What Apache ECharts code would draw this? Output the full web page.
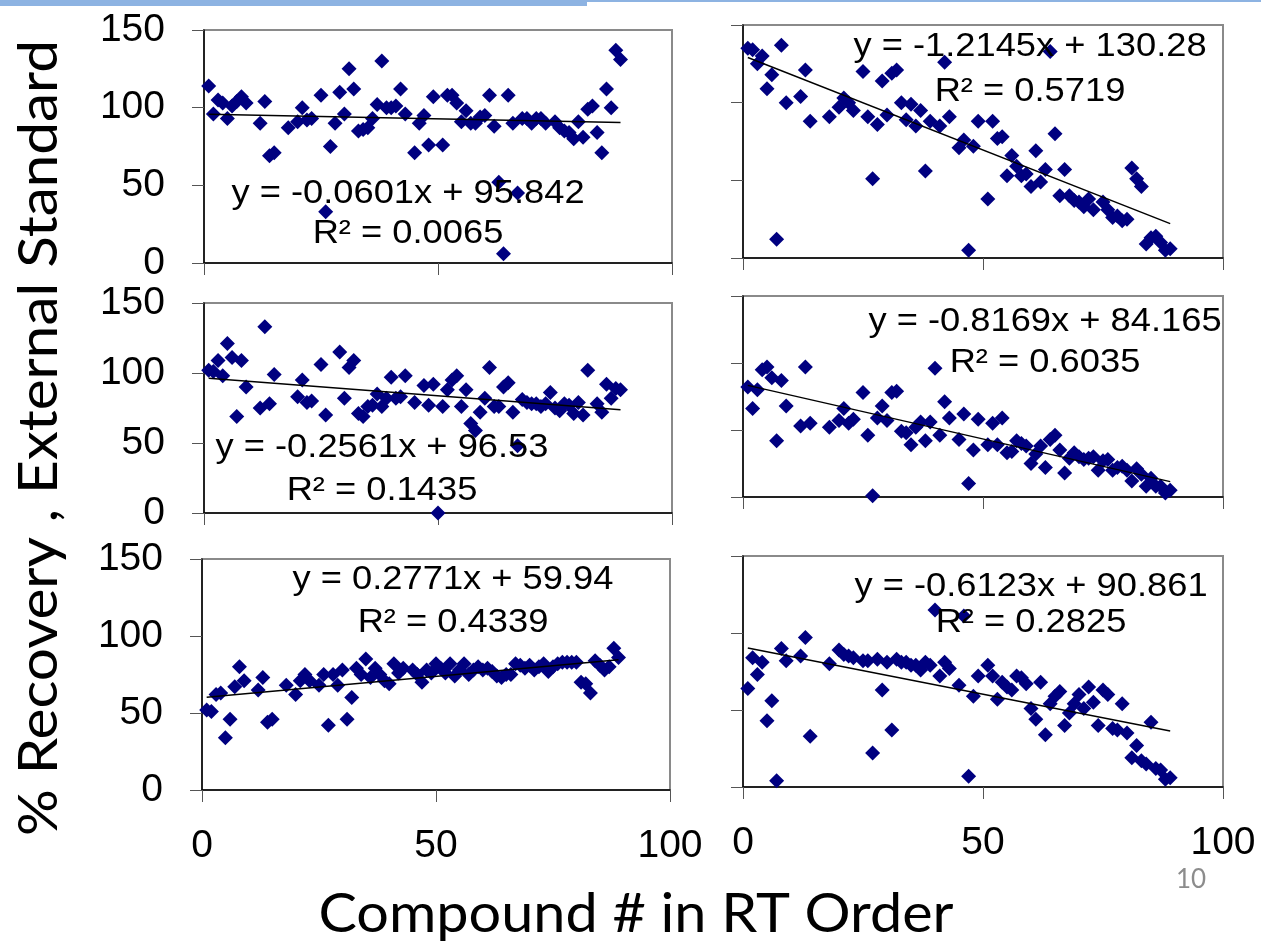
<!DOCTYPE html>
<html>
<head>
<meta charset="utf-8">
<script src="https://cdn.jsdelivr.net/npm/echarts@6/dist/echarts.min.js"></script>
<style>
  html, body { margin: 0; padding: 0; background: #fff; }
  #chart { width: 1261px; height: 941px; }
</style>
</head>
<body>
<div id="chart"></div>
<script>
// Recovery (%) against compound number in retention-time order, six sample sets.
const recTopLeft = [[1,114],[2,96],[3,105],[4,103],[5,93],[6,101],[7,104],[8,107],[9,103],[12,90],[13,104],[14,69],[15,71],[18,87],[20,91],[21,100],[22,92],[23,93],[25,108],[26,33],[27,75],[28,90],[29,110],[30,96],[31,125],[32,112],[33,85],[34,86],[35,87],[36,93],[37,102],[38,130],[39,100],[40,100],[41,101],[42,112],[43,96],[45,71],[46,90],[47,95],[48,76],[49,107],[51,76],[52,108],[53,108],[54,103],[55,91],[56,98],[57,90],[58,90],[59,94],[60,95],[61,108],[62,88],[63,52],[64,6],[65,108],[66,90],[67,45],[68,93],[69,93],[70,90],[71,93],[72,93],[73,90],[75,91],[76,87],[77,85],[78,84],[79,80],[80,91],[81,81],[82,99],[83,101],[84,84],[85,71],[86,112],[87,100],[88,137],[89,131]];

const recTopRight = [[1,135],[2,134],[3,125],[4,130],[5,109],[6,118],[7,12],[8,137],[9,100],[12,104],[13,121],[14,88],[18,91],[20,97],[21,103],[22,100],[23,95],[25,120],[26,91],[27,51],[28,86],[29,114],[30,92],[31,119],[32,121],[33,100],[34,89],[35,99],[36,85],[37,95],[38,56],[39,88],[41,85],[42,126],[43,91],[45,71],[46,76],[47,5],[48,72],[49,88],[51,38],[52,88],[53,77],[54,78],[55,53],[56,66],[57,59],[58,53],[59,54],[60,46],[61,69],[62,49],[63,57],[64,133],[65,80],[66,40],[67,57],[68,40],[69,37],[70,36],[71,33],[72,38],[73,31],[75,36],[76,31],[77,26],[78,27],[79,24],[80,25],[81,58],[82,51],[83,46],[84,9],[85,13],[86,14],[87,10],[88,5],[89,6]];

const recMidLeft = [[1,102],[2,101],[3,109],[4,98],[5,121],[6,111],[7,69],[8,109],[9,90],[12,75],[13,133],[14,78],[15,99],[20,83],[21,95],[22,79],[23,80],[25,106],[26,70],[29,115],[30,82],[31,104],[32,109],[33,71],[34,69],[35,76],[36,77],[37,85],[38,76],[39,82],[40,97],[41,82],[42,83],[43,98],[45,79],[47,91],[48,77],[49,92],[50,0],[51,76],[52,88],[53,95],[54,98],[55,76],[56,88],[57,64],[58,59],[59,72],[60,82],[61,104],[62,76],[63,76],[64,90],[65,93],[66,72],[67,48],[68,81],[69,79],[70,78],[71,78],[72,76],[73,78],[74,86],[75,75],[76,73],[77,78],[78,77],[79,71],[80,79],[81,70],[82,102],[84,78],[85,72],[86,92],[87,82],[88,89],[89,88]];

const recMidRight = [[1,82],[2,66],[3,80],[4,95],[5,97],[6,89],[7,42],[8,87],[9,68],[12,53],[13,97],[14,55],[18,52],[20,57],[21,66],[22,55],[23,58],[25,78],[26,46],[27,1],[28,59],[29,68],[30,57],[31,78],[32,79],[33,49],[34,48],[35,39],[36,52],[37,56],[38,42],[39,56],[40,96],[41,46],[42,71],[43,59],[45,43],[46,62],[47,10],[48,35],[49,58],[51,39],[52,55],[53,39],[54,59],[55,33],[56,34],[57,42],[58,40],[59,38],[60,25],[61,32],[62,38],[63,22],[64,43],[65,46],[66,35],[67,18],[68,29],[69,33],[70,30],[71,28],[72,29],[73,30],[74,20],[75,27],[76,28],[77,20],[78,22],[79,23],[80,20],[81,12],[82,21],[83,17],[84,8],[85,14],[86,8],[87,8],[88,3],[89,5]];

const recBotLeft = [[1,52],[2,51],[3,62],[4,63],[5,34],[6,46],[7,67],[8,80],[9,71],[12,65],[13,73],[14,44],[15,46],[18,68],[20,62],[21,71],[22,75],[23,71],[25,68],[26,75],[27,42],[28,75],[29,68],[30,78],[31,46],[32,60],[33,79],[34,75],[35,85],[36,73],[37,79],[38,75],[39,71],[40,69],[41,82],[42,76],[43,79],[45,78],[46,75],[47,70],[48,78],[49,76],[50,82],[51,79],[52,76],[53,82],[54,74],[55,78],[56,82],[57,75],[58,78],[59,80],[60,78],[61,79],[62,77],[63,74],[64,73],[65,75],[66,75],[67,82],[68,81],[69,79],[70,81],[71,78],[72,80],[73,82],[74,77],[75,80],[76,82],[77,83],[78,83],[79,83],[80,83],[81,70],[82,69],[83,63],[84,84],[85,81],[86,78],[87,80],[88,92],[89,86]];

const recBotRight = [[1,64],[2,84],[3,73],[4,81],[5,43],[6,56],[7,4],[8,90],[9,82],[12,85],[13,97],[14,33],[18,80],[20,89],[21,86],[22,85],[23,84],[25,82],[26,82],[27,22],[28,83],[29,63],[30,81],[31,37],[32,83],[33,81],[34,81],[35,79],[36,79],[37,76],[38,81],[39,79],[40,115],[41,72],[42,81],[43,77],[45,66],[46,111],[47,7],[48,59],[49,72],[51,79],[52,72],[53,57],[54,68],[55,65],[56,63],[57,72],[58,71],[59,67],[60,51],[61,44],[62,68],[63,34],[64,54],[65,59],[66,62],[67,40],[68,48],[69,54],[70,60],[71,51],[72,65],[73,55],[74,40],[75,63],[76,60],[77,38],[78,37],[79,54],[80,35],[81,19],[82,27],[83,17],[84,15],[85,42],[86,12],[87,11],[88,5],[89,6]];

// Linear trendline fits for each panel (same order as the panels)
const slopes     = [-0.0601, -1.2145, -0.2561, -0.8169, 0.2771, -0.6123];
const intercepts = [95.842, 130.28, 96.53, 84.165, 59.94, 90.861];
const rSquared   = ['0.0065', '0.5719', '0.1435', '0.6035', '0.4339', '0.2825'];

// Axis tick values
const xTicks = [0, 50, 100];
const yTicks = [0, 50, 100, 150];

const yTitle = '% Recovery , External Standard';
const xTitle = 'Compound # in RT Order';
const pageNo = '10';

const panels = [recTopLeft, recTopRight, recMidLeft, recMidRight, recBotLeft, recBotRight];

// ---- layout ----
const grids = [
  { left: 204, top: 30,  width: 468, height: 233 },
  { left: 743, top: 25,  width: 480, height: 233 },
  { left: 204, top: 303, width: 468, height: 210 },
  { left: 743, top: 296, width: 480, height: 201 },
  { left: 202, top: 559, width: 468, height: 231 },
  { left: 743, top: 556, width: 480, height: 231 }
];
// centre x and the two line centres (y) of each equation block
const eqPos = [
  { x: 408,  y1: 194,   y2: 234 },
  { x: 1030, y1: 46.7,  y2: 91.7 },
  { x: 382,  y1: 448.3, y2: 490.5 },
  { x: 1045, y1: 321.7, y2: 362.5 },
  { x: 453,  y1: 580,   y2: 623.3 },
  { x: 1031, y1: 586.7, y2: 623.3 }
];

const SANS = '"Liberation Sans", Arial, sans-serif';
const HUMAN = 'Lato, "Open Sans", sans-serif';

function measure(text, font) {
  const ctx = document.createElement('canvas').getContext('2d');
  ctx.font = font;
  return ctx.measureText(text).width;
}

const chart = echarts.init(document.getElementById('chart'), null, { renderer: 'canvas' });

const xAxes = [], yAxes = [], series = [], graphics = [];

grids.forEach((g, i) => {
  const leftCol = i % 2 === 0;
  const bottomRow = i >= 4;
  xAxes.push({
    gridIndex: i, type: 'value',
    min: xTicks[0], max: xTicks[xTicks.length - 1], interval: xTicks[1] - xTicks[0],
    axisLine: { show: true, onZero: false, lineStyle: { color: '#000', width: 1.5 } },
    axisTick: { show: true, length: 12, lineStyle: { color: '#555', width: 1 } },
    axisLabel: { show: bottomRow, color: '#000', fontSize: 39, fontFamily: SANS, margin: 37 },
    splitLine: { show: false }
  });
  yAxes.push({
    gridIndex: i, type: 'value',
    min: yTicks[0], max: yTicks[yTicks.length - 1], interval: yTicks[1] - yTicks[0],
    axisLine: { show: true, onZero: false, lineStyle: { color: '#000', width: 1.5 } },
    axisTick: { show: true, length: 12, lineStyle: { color: '#555', width: 1 } },
    axisLabel: { show: leftCol, color: '#000', fontSize: 39, fontFamily: SANS, margin: 39, padding: [10, 0, 0, 0] },
    splitLine: { show: false }
  });

  const pts = panels[i];
  series.push({
    type: 'scatter', xAxisIndex: i, yAxisIndex: i,
    data: pts, symbol: 'diamond', symbolSize: 15,
    itemStyle: { color: '#000080', opacity: 1 }, clip: false, silent: true, z: 2
  });

  // trendline spans the fitted compound range
  const xs = pts.map(p => p[0]);
  const x0 = Math.min(...xs), x1 = Math.max(...xs);
  const m = slopes[i], b = intercepts[i];
  series.push({
    type: 'line', xAxisIndex: i, yAxisIndex: i,
    data: [[x0, m * x0 + b], [x1, m * x1 + b]],
    symbol: 'none', silent: true, z: 3,
    lineStyle: { color: '#000', width: 1.4 }
  });

  const eq1 = 'y = ' + m + 'x + ' + b;
  const eq2 = 'R\u00b2 = ' + rSquared[i];
  [[eq1, eqPos[i].y1], [eq2, eqPos[i].y2]].forEach(([t, y]) => {
    graphics.push({
      type: 'text', x: eqPos[i].x, y: y, scaleX: 1.1, z: 10, silent: true,
      style: { text: t, fontSize: 33, fontFamily: SANS, fill: '#000',
               align: 'center', verticalAlign: 'middle',
               textAlign: 'center', textVerticalAlign: 'middle' }
    });
  });
});

// slide header rule
graphics.push({ type: 'rect', shape: { x: 0, y: 0, width: 587, height: 6 }, style: { fill: '#8DB3E2' }, silent: true });
graphics.push({ type: 'rect', shape: { x: 587, y: 0, width: 674, height: 2 }, style: { fill: '#8DB3E2' }, silent: true });

// shared axis titles
const titleFont = '55px ' + HUMAN;
const yScale = 796 / measure(yTitle, titleFont);
const xScale = 635 / measure(xTitle, titleFont);
graphics.push({
  type: 'text', x: 39, y: 438, rotation: Math.PI / 2, scaleX: yScale, silent: true,
  style: { text: yTitle, fontSize: 55, fontFamily: HUMAN, fill: '#000',
           align: 'center', verticalAlign: 'middle', textAlign: 'center', textVerticalAlign: 'middle' }
});
graphics.push({
  type: 'text', x: 636, y: 914.5, scaleX: xScale, silent: true,
  style: { text: xTitle, fontSize: 55, fontFamily: HUMAN, fill: '#000',
           align: 'center', verticalAlign: 'middle', textAlign: 'center', textVerticalAlign: 'middle' }
});
graphics.push({
  type: 'text', x: 1191, y: 880, silent: true,
  style: { text: pageNo, fontSize: 26, fontFamily: HUMAN, fill: '#8c8c8c',
           align: 'center', verticalAlign: 'middle', textAlign: 'center', textVerticalAlign: 'middle' }
});

chart.setOption({
  animation: false,
  backgroundColor: '#fff',
  grid: grids.map(g => Object.assign({ show: true, borderColor: '#8a8a8a', borderWidth: 2, backgroundColor: 'transparent' }, g)),
  xAxis: xAxes,
  yAxis: yAxes,
  series: series,
  graphic: { elements: graphics }
});
</script>
</body>
</html>
